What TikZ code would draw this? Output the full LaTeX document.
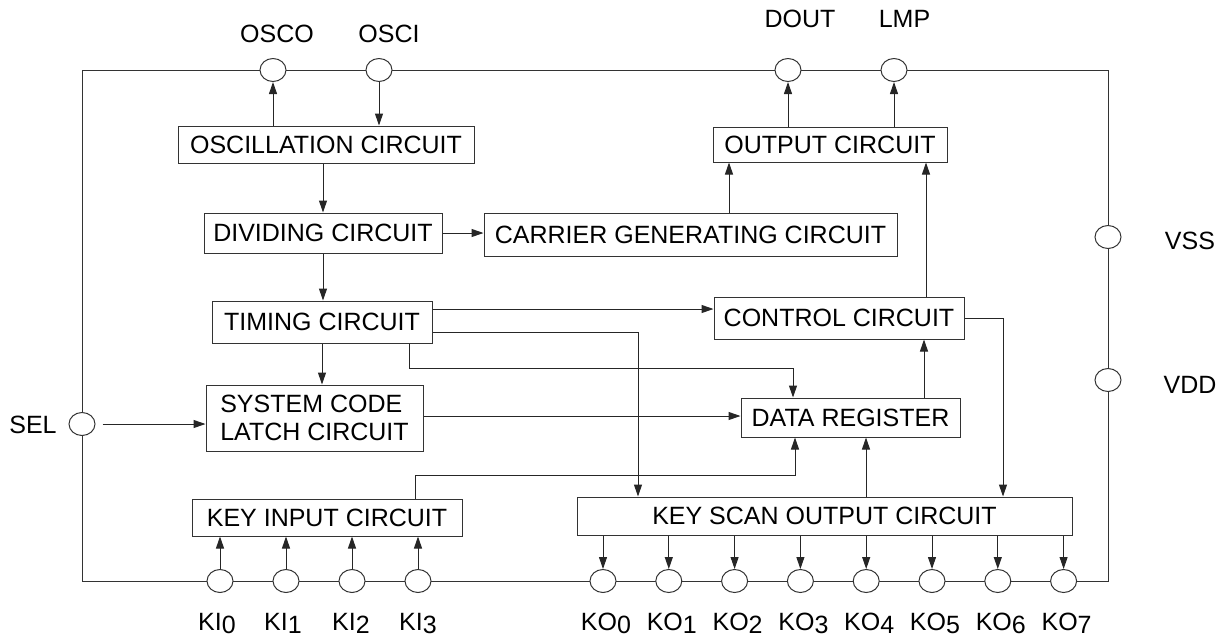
\documentclass[tikz,border=0pt]{standalone}
\usepackage{fontspec}
\setmainfont{Liberation Sans}
\usetikzlibrary{arrows.meta,shapes.geometric}

\newcommand{\pinno}[1]{\raisebox{-1.5pt}{#1}}

\begin{document}
\begin{tikzpicture}[x=0.5pt,y=-0.5pt,line width=0.5pt,
  box/.style={draw=black!80,inner sep=0pt,font=\fontsize{12.5}{14}\selectfont},
  pin/.style={draw=black!80,ellipse,fill=white,minimum width=13pt,minimum height=11.5pt,inner sep=0pt},
  txt/.style={font=\fontsize{12.5}{14}\selectfont},
  arr/.style={draw=black!85,-{Triangle[length=6pt,width=4pt]}}]
\useasboundingbox (0,0) rectangle (1228,639);

% chip outline
\draw[black!80] (82,70) rectangle (1108,581);

% pins
\node[pin] (osco) at (273,70) {};
\node[pin] (osci) at (379,70) {};
\node[pin] (dout) at (788,70) {};
\node[pin] (lmp) at (894,70) {};
\node[pin] (vss) at (1108,237) {};
\node[pin] (vdd) at (1108,380) {};
\node[pin] (sel) at (82,424) {};
\foreach \i/\x in {0/220,1/286,2/352,3/418}
{
  \node[pin] (ki\i) at (\x,581) {};
}
\foreach \i in {0,...,7}
{
  \node[pin] (ko\i) at ({603+65.8*\i},581) {};
}

% pin names
\node[txt] (osco-t) at (277,33.5) {OSCO};
\node[txt] (osci-t) at (389,33.5) {OSCI};
\node[txt] (dout-t) at (800,19) {DOUT};
\node[txt] (lmp-t) at (904.5,19) {LMP};
\node[txt] (sel-t) at (33,425) {SEL};
\node[txt] (vss-t) at (1190,241) {VSS};
\node[txt] (vdd-t) at (1190,385) {VDD};
\foreach \i/\x in {0/217,1/283,2/351,3/418}
{
  \node[txt,anchor=base] (ki\i-t) at (\x,630) {KI\pinno{\i}};
}
\foreach \i in {0,...,7}
{
  \node[txt,anchor=base] (ko\i-t) at ({606+65.8*\i},630) {KO\pinno{\i}};
}

% blocks
\node[box,minimum width=148pt,minimum height=18.5pt] (osc) at (326,144.5) {OSCILLATION CIRCUIT};
\node[box,minimum width=119pt,minimum height=20pt] (div) at (323,233) {DIVIDING CIRCUIT};
\node[box,minimum width=206.5pt,minimum height=21.5pt] (car) at (690.5,234.5) {CARRIER GENERATING CIRCUIT};
\node[box,minimum width=117pt,minimum height=17.5pt] (out) at (830,144.5) {OUTPUT CIRCUIT};
\node[box,minimum width=110pt,minimum height=21pt] (tim) at (322,322) {TIMING CIRCUIT};
\node[box,minimum width=125pt,minimum height=21pt] (ctl) at (839,318) {CONTROL CIRCUIT};
\node[box,minimum width=108.5pt,minimum height=33pt,align=left] (sys) at (314.5,418) {SYSTEM CODE\\LATCH CIRCUIT};
\node[box,minimum width=109.5pt,minimum height=19.5pt] (dat) at (850.5,417.5) {DATA REGISTER};
\node[box,minimum width=135pt,minimum height=18.5pt] (kin) at (327,517.5) {KEY INPUT CIRCUIT};
\node[box,minimum width=247.5pt,minimum height=19pt] (ksc) at (824.5,516) {KEY SCAN OUTPUT CIRCUIT};

% bends of the signal lines
\coordinate (c1) at (729,0);
\coordinate (t1) at (0,309);
\coordinate (t2) at (638,332);
\coordinate (t3a) at (409,368);
\coordinate (t3b) at (793,368);
\coordinate (s1) at (0,416);
\coordinate (k1a) at (415,475);
\coordinate (k1b) at (795,475);
\coordinate (k2) at (866,0);
\coordinate (d1) at (924,0);
\coordinate (o1) at (926,0);
\coordinate (c2) at (1003,318);

% signals
\draw[arr] (osc.north -| osco) -- (osco.south);
\draw[arr] (osci.south) -- (osc.north -| osci);
\draw[arr] (osc.south -| div.north) -- (div.north);
\draw[arr] (div.east) -- (car.west |- div.east);
\draw[arr] (car.north -| c1) -- (out.south -| c1);
\draw[arr] (out.north -| dout) -- (dout.south);
\draw[arr] (out.north -| lmp) -- (lmp.south);
\draw[arr] (div.south) -- (tim.north -| div.south);
\draw[arr] (tim.east |- t1) -- (ctl.west |- t1);
\draw[arr] (tim.east |- t2) -- (t2) -- (ksc.north -| t2);
\draw[arr] (tim.south -| t3a) -- (t3a) -- (t3b) -- (dat.north -| t3b);
\draw[arr] (tim.south) -- (sys.north -| tim.south);
\draw[arr,shorten <=3.5pt] (sel.east) -- (sys.west |- sel.east);
\draw[arr] (sys.east |- s1) -- (dat.west |- s1);
\draw[arr] (kin.north -| k1a) -- (k1a) -- (k1b) -- (dat.south -| k1b);
\draw[arr] (ksc.north -| k2) -- (dat.south -| k2);
\draw[arr] (dat.north -| d1) -- (ctl.south -| d1);
\draw[arr] (ctl.north -| o1) -- (out.south -| o1);
\draw[arr] (ctl.east |- c2) -- (c2) -- (ksc.north -| c2);
\foreach \i in {0,...,3}
{
  \draw[arr] (ki\i.north) -- (kin.south -| ki\i);
}
\foreach \i in {0,...,7}
{
  \draw[arr] (ksc.south -| ko\i) -- (ko\i.north);
}
\end{tikzpicture}
\end{document}
